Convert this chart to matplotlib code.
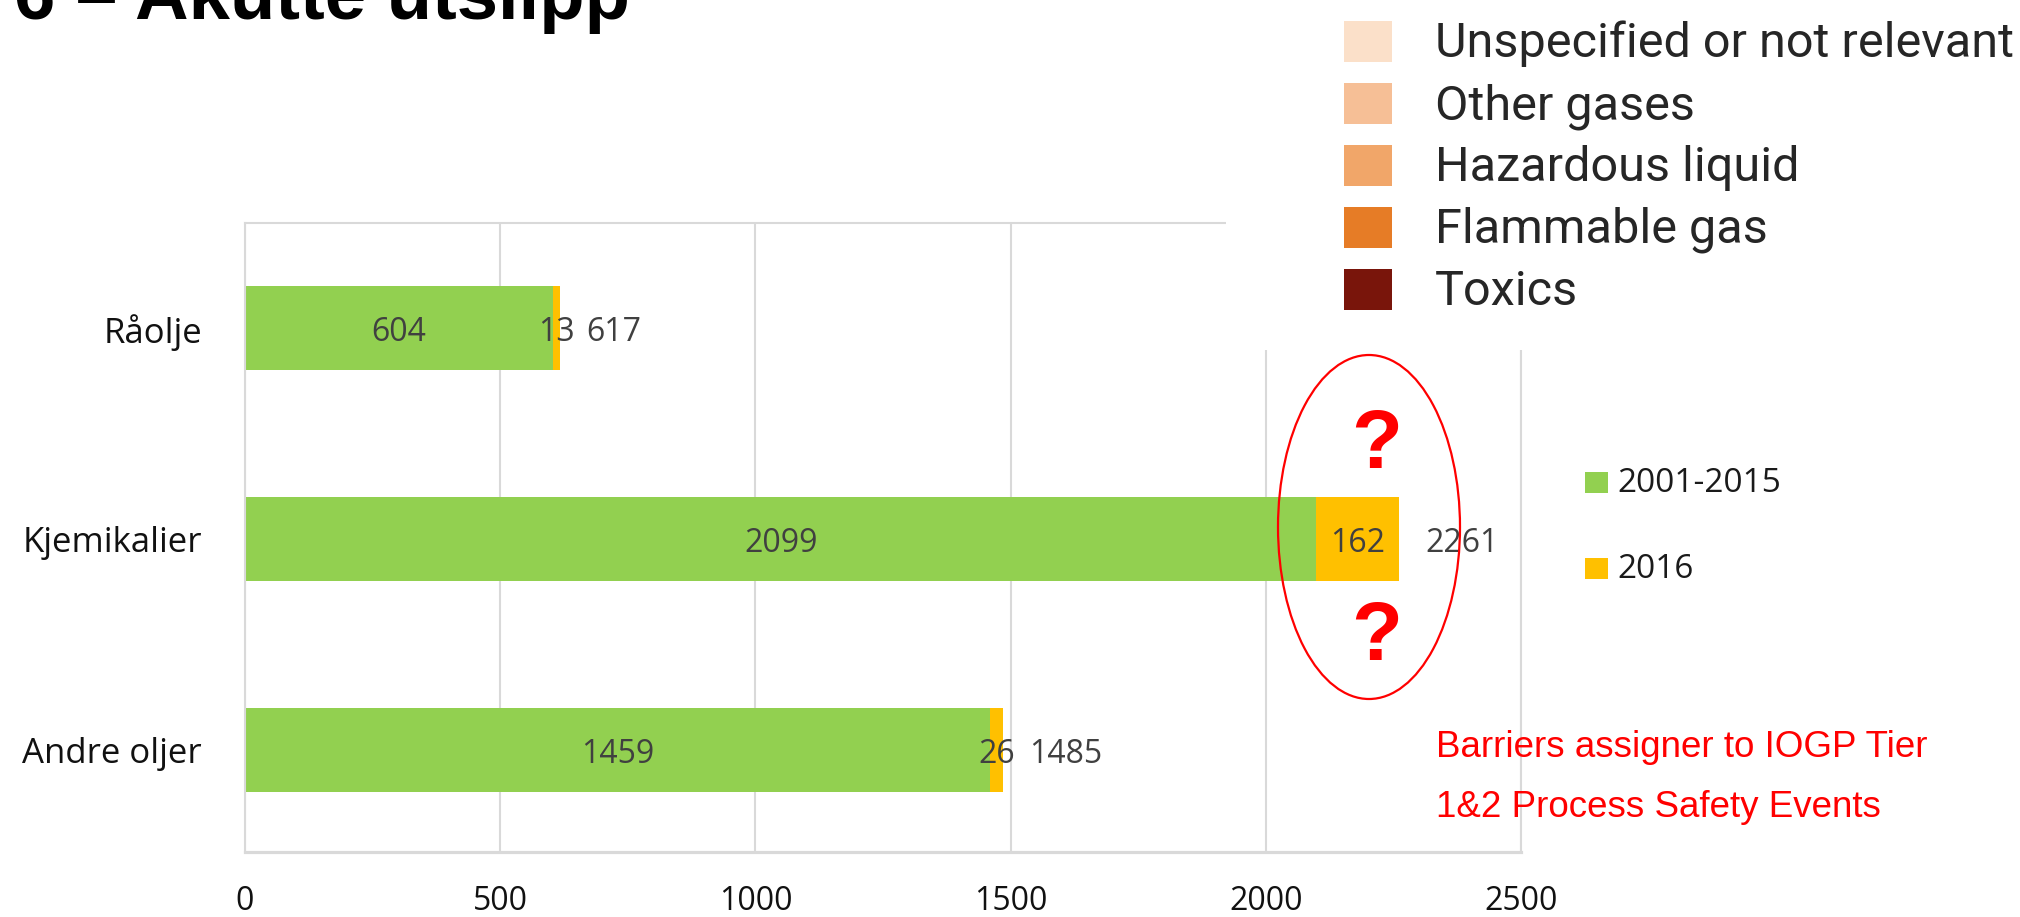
import matplotlib
matplotlib.use("Agg")
import matplotlib.pyplot as plt
from matplotlib import font_manager
from matplotlib.patches import Rectangle, Ellipse

W, H = 2020, 917
DPI = 100

categories = ["Andre oljer", "Kjemikalier", "Råolje"]
period_2001_2015 = [1459, 2099, 604]
year_2016 = [26, 162, 13]
totals = [1485, 2261, 617]
x_ticks = [0, 500, 1000, 1500, 2000, 2500]

series_names = ["2001-2015", "2016"]
series_colors = ["#92D050", "#FFC000"]

hazard_labels = ["Unspecified or not relevant", "Other gases", "Hazardous liquid",
                 "Flammable gas", "Toxics"]
hazard_colors = ["#FBE0C9", "#F6BF96", "#F1A669", "#E67C26", "#79150B"]

title = "6 – Akutte utslipp"
note_lines = ["Barriers assigner to IOGP Tier", "1&2 Process Safety Events"]


def fx(px):
    return px / W


def fy(py):
    return 1 - py / H


def pick_font(*names):
    have = {f.name for f in font_manager.fontManager.ttflist}
    for n in names:
        if n in have:
            return n
    return "DejaVu Sans"


SANS = pick_font("Liberation Sans", "Arial")
NARROW = pick_font("Liberation Sans Narrow", "Roboto", "Lato")
OPEN = pick_font("Open Sans", "Lato")

fig = plt.figure(figsize=(W / DPI, H / DPI), dpi=DPI)
ax = fig.add_axes([fx(245), fy(852), (1521 - 245) / W, (852 - 223) / H])

y = list(range(len(categories)))
ax.barh(y, period_2001_2015, height=0.40, color=series_colors[0], zorder=2)
ax.barh(y, year_2016, left=period_2001_2015, height=0.40,
        color=series_colors[1], zorder=2)

lab_kw = dict(fontsize=23, color="#404040", family=OPEN, va="center_baseline")
for yi, a, b, tot in zip(y, period_2001_2015, year_2016, totals):
    ax.annotate(str(a), xy=(a / 2, yi), ha="center", **lab_kw)
    ax.annotate(str(b), xy=(a + b / 2, yi), ha="center", **lab_kw)
    ax.annotate(str(tot), xy=(tot, yi), xytext=(26 * 72 / DPI, 0),
                textcoords="offset points", ha="left", **lab_kw)

ax.set_xlim(0, 2500)
ax.set_ylim(-0.483, 2.498)
ax.set_xticks(x_ticks)
ax.set_xticklabels([str(t) for t in x_ticks], fontsize=23, family=OPEN, color="#111111")
ax.set_yticks(y)
ax.set_yticklabels(categories, fontsize=25, family=OPEN, color="#111111")
ax.tick_params(axis="x", length=0, pad=23.5)
ax.tick_params(axis="y", length=0, pad=31)
ax.xaxis.grid(True, color="#D9D9D9", linewidth=1.5, zorder=0)
ax.set_axisbelow(True)
for side, sp in ax.spines.items():
    sp.set_color("#D9D9D9")
    sp.set_linewidth(1.5)
ax.spines["bottom"].set_linewidth(2.3)

# white box of the pasted legend image covers the chart corner
fig.add_artist(Rectangle((fx(1226), fy(350)), (W - 1226) / W, 350 / H,
                         transform=fig.transFigure, facecolor="white",
                         edgecolor="none", zorder=2))

# hazard legend (top right)
probe = fig.text(0, 0, hazard_labels[0], fontsize=40, family=NARROW)
fig.canvas.draw()
wpx = probe.get_window_extent().width
probe.remove()
leg_size = 40 * 578 / wpx
for i, (lab, col) in enumerate(zip(hazard_labels, hazard_colors)):
    top = 21 + 62 * i
    fig.add_artist(Rectangle((fx(1344), fy(top + 41)), 48 / W, 41 / H,
                             transform=fig.transFigure, facecolor=col,
                             edgecolor="none", zorder=3))
    fig.text(fx(1435), fy(top + 36), lab, fontsize=leg_size, family=NARROW,
             color="#262626", va="baseline", ha="left", zorder=3)

# series legend
for (lab, col), top in zip(zip(series_names, series_colors), [472, 558]):
    fig.add_artist(Rectangle((fx(1585), fy(top + 21)), 23 / W, 21 / H,
                             transform=fig.transFigure, facecolor=col,
                             edgecolor="none", zorder=3))
    fig.text(fx(1617), fy(top + 20), lab, fontsize=24, family=OPEN,
             color="#1a1a1a", va="baseline", ha="left", zorder=3)

# title, cut at the top edge like the slide
fig.text(fx(14), fy(19), title, fontsize=53.5, fontweight="bold", family=SANS,
         color="black", va="baseline", ha="left")

# red annotation
fig.add_artist(Ellipse((fx(1369), fy(527)), 182 / W, 344 / H,
                       transform=fig.transFigure, fill=False,
                       edgecolor="red", linewidth=1.6, zorder=4))
for base in [468, 660]:
    fig.text(fx(1377), fy(base), "?", fontsize=60, fontweight="bold", family=SANS,
             color="red", ha="center", va="baseline", zorder=4)
for line, base in zip(note_lines, [757, 817]):
    fig.text(fx(1436), fy(base), line, fontsize=26.5, family=SANS, color="red",
             ha="left", va="baseline", zorder=4)

fig.savefig("out.png", dpi=DPI)
